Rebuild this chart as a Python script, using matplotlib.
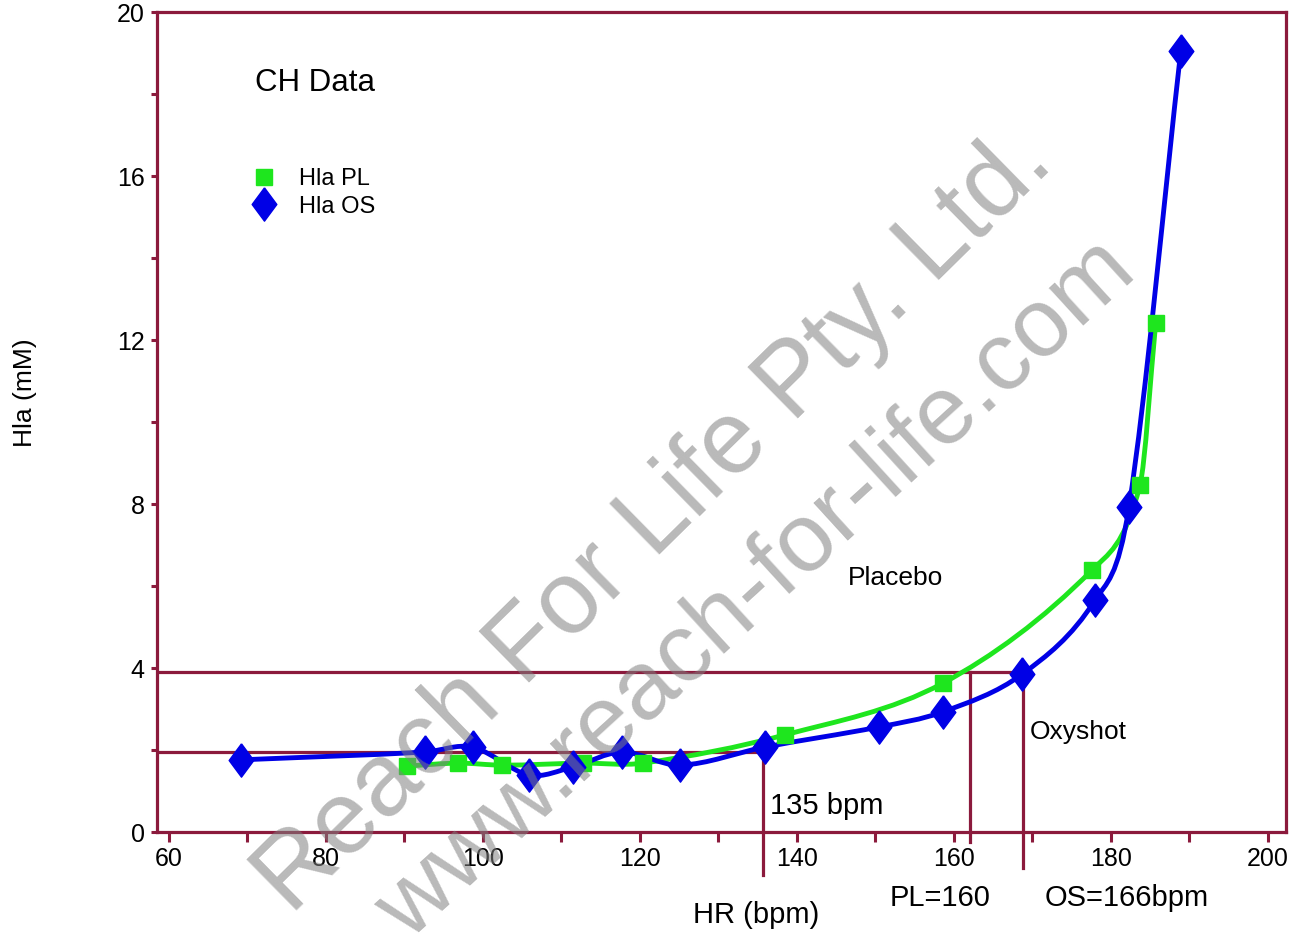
import numpy as np
import matplotlib
matplotlib.use("Agg")
import matplotlib.pyplot as plt
from matplotlib.path import Path
from matplotlib.patches import PathPatch

plt.rcParams['font.family'] = ['Liberation Sans', 'DejaVu Sans']

# data
hr_pl = [90.4, 96.9, 102.5, 112.7, 120.4, 138.5, 158.6, 177.6, 183.7, 185.7]
hla_pl = [1.61, 1.68, 1.63, 1.68, 1.68, 2.37, 3.63, 6.39, 8.46, 12.41]

hr_os = [69.2, 92.6, 98.7, 105.9, 111.5, 117.7, 125.1, 135.9, 150.4, 158.6, 168.7, 178.0, 182.3, 188.9]
hla_os = [1.76, 1.95, 2.07, 1.39, 1.59, 1.95, 1.63, 2.07, 2.56, 2.93, 3.85, 5.66, 7.93, 19.05]

# threshold marks (x, lower end below axis)
thr_x = [135.7, 162.0, 168.8]
thr_low = [-1.05, -0.24, -0.88]
thr_y = [1.95, 3.9, 3.9]

maroon = '#8b1a3c'
green = '#1ee61e'
blue = '#0000e6'


def smooth_path(xs, ys):
    # cubic hermite through the points, drawn as bezier segments
    x = np.asarray(xs, float)
    y = np.asarray(ys, float)
    n = len(x)
    m = np.zeros(n)
    for i in range(n):
        a = max(i - 1, 0)
        b = min(i + 1, n - 1)
        m[i] = (y[b] - y[a]) / (x[b] - x[a])
    verts = [(x[0], y[0])]
    codes = [Path.MOVETO]
    for i in range(n - 1):
        h = x[i + 1] - x[i]
        verts.append((x[i] + h / 3, y[i] + m[i] * h / 3))
        verts.append((x[i + 1] - h / 3, y[i + 1] - m[i + 1] * h / 3))
        verts.append((x[i + 1], y[i + 1]))
        codes += [Path.CURVE4] * 3
    return Path(verts, codes)


fig = plt.figure(figsize=(13.06, 9.39), dpi=100)
ax = fig.add_axes([157 / 1306, 1 - 832 / 939, (1286 - 157) / 1306, (832 - 12) / 939])
ax.set_xlim(58.5, 202.3)
ax.set_ylim(0, 20)

# threshold lines
for tx, tl, ty in zip(thr_x, thr_low, thr_y):
    ax.plot([tx, tx], [tl, ty], color=maroon, lw=2.3, clip_on=False, zorder=2)
ax.plot([58.5, thr_x[0]], [thr_y[0], thr_y[0]], color=maroon, lw=2.3, zorder=2)
ax.plot([58.5, thr_x[2]], [thr_y[2], thr_y[2]], color=maroon, lw=2.3, zorder=2)

ax.add_patch(PathPatch(smooth_path(hr_pl, hla_pl), fill=False, ec=green, lw=3.5, zorder=3))
ax.add_patch(PathPatch(smooth_path(hr_os, hla_os), fill=False, ec=blue, lw=3.5, zorder=4))

diamond = [(0, 1), (0.74, 0), (0, -1), (-0.74, 0), (0, 1)]
ax.plot(hr_pl, hla_pl, 's', color=green, ms=12, mec=green, ls='none', zorder=5, label='Hla PL')
ax.plot(hr_os, hla_os, marker=diamond, color=blue, ms=24, mec=blue, ls='none', zorder=6, label='Hla OS')

for s in ax.spines.values():
    s.set_color(maroon)
    s.set_linewidth(2.3)

ax.set_xticks(range(60, 201, 20))
ax.set_xticks(range(70, 200, 20), minor=True)
ax.set_yticks(range(0, 21, 4))
ax.set_yticks(range(2, 20, 4), minor=True)
ax.tick_params(axis='x', which='both', direction='out', length=7, width=2.2, color=maroon, labelsize=18, pad=4)
ax.tick_params(axis='y', which='both', direction='out', length=4, width=2.2, color=maroon, labelsize=18, pad=5)

leg = ax.legend(loc='upper left', bbox_to_anchor=(240 / 1306, 1 - 156 / 939), bbox_transform=fig.transFigure,
                frameon=False, fontsize=17, handlelength=1.0, handletextpad=1.0, labelspacing=0.25,
                borderpad=0, numpoints=1)

fig.text(255 / 1306, 1 - 83 / 939, 'CH Data', fontsize=22.5, va='center', ha='left')
fig.text(848 / 1306, 1 - 578 / 939, 'Placebo', fontsize=19, va='center')
fig.text(1030 / 1306, 1 - 732 / 939, 'Oxyshot', fontsize=19, va='center')
fig.text(770 / 1306, 1 - 806 / 939, '135 bpm', fontsize=21, va='center')
fig.text(890 / 1306, 1 - 898 / 939, 'PL=160', fontsize=21, va='center')
fig.text(1045 / 1306, 1 - 898 / 939, 'OS=166bpm', fontsize=21, va='center')
fig.text(756 / 1306, 1 - 915 / 939, 'HR (bpm)', fontsize=21, va='center', ha='center')
fig.text(25 / 1306, 1 - 393 / 939, 'Hla (mM)', fontsize=19, va='center', ha='center', rotation=90)

# watermark
fig.text(655 / 1306, 1 - 522 / 939, 'Reach For Life Pty. Ltd.', fontsize=74, color='#808080', alpha=0.55,
         rotation=44.5, rotation_mode='anchor', ha='center', va='center', zorder=10)
fig.text(757 / 1306, 1 - 590 / 939, 'www.reach-for-life.com', fontsize=70, color='#808080', alpha=0.55,
         rotation=42.4, rotation_mode='anchor', ha='center', va='center', zorder=10)

fig.savefig('out.png', dpi=100)
